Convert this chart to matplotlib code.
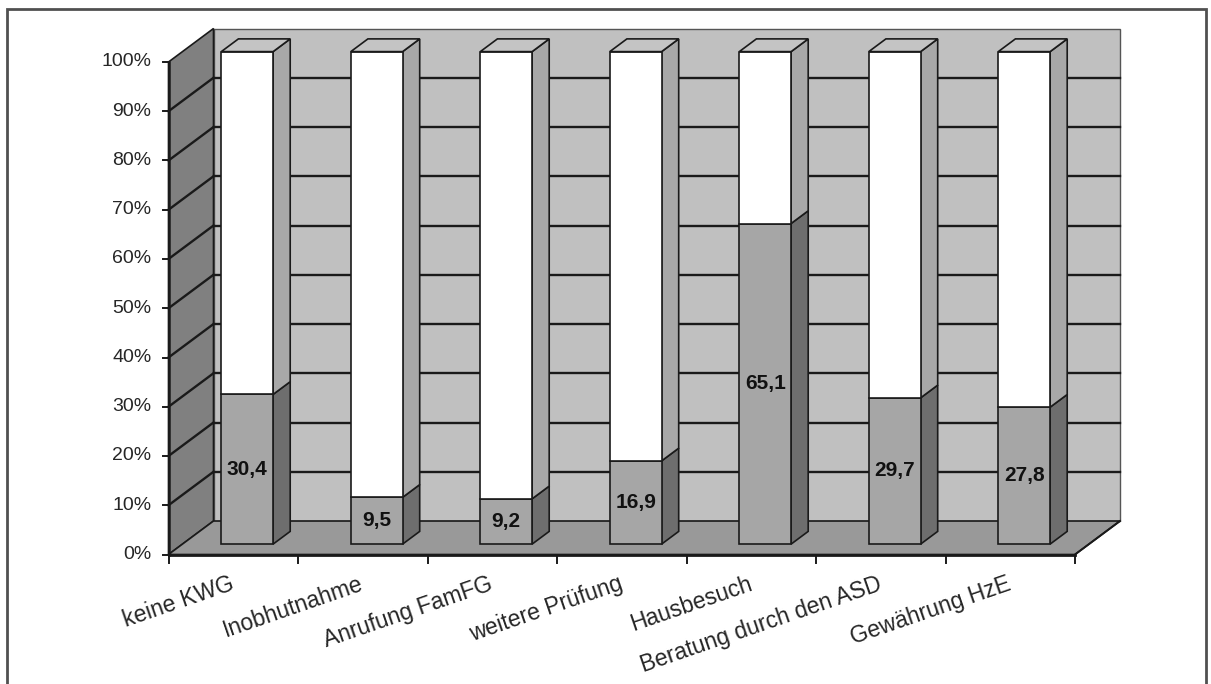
import matplotlib
matplotlib.use("Agg")
import matplotlib.pyplot as plt
from matplotlib.patches import Polygon, Rectangle

categories = ["keine KWG", "Inobhutnahme", "Anrufung FamFG", "weitere Prüfung",
              "Hausbesuch", "Beratung durch den ASD", "Gewährung HzE"]
shares = [30.4, 9.5, 9.2, 16.9, 65.1, 29.7, 27.8]
y_ticks = [0, 10, 20, 30, 40, 50, 60, 70, 80, 90, 100]
y_tick_labels = [f"{v}%" for v in y_ticks]

# pseudo-3D box: x in category units, y in percent, z = depth fraction (0 front, 1 back)
DX, DY = 0.3475, 6.8
BAR_W = 0.40
Z0, Z1 = 0.31, 0.69
PX_X, PX_Y = 129.5, 4.925          # pixels per data unit

FONT = ["Liberation Sans", "DejaVu Sans"]
EDGE = "#1a1a1a"


def proj(x, y, z):
    return (x + z * DX, y + z * DY)


def face(ax, pts, color, zorder, lw=1.2, ec=EDGE):
    ax.add_patch(Polygon(pts, closed=True, facecolor=color, edgecolor=ec,
                         linewidth=lw, joinstyle="miter", zorder=zorder))


def bar_block(ax, xc, y0, y1, front, side, top=None, zorder=5):
    x0, x1 = xc - BAR_W / 2, xc + BAR_W / 2
    face(ax, [proj(x1, y0, Z0), proj(x1, y0, Z1), proj(x1, y1, Z1), proj(x1, y1, Z0)],
         side, zorder)
    face(ax, [proj(x0, y0, Z0), proj(x1, y0, Z0), proj(x1, y1, Z0), proj(x0, y1, Z0)],
         front, zorder)
    if top is not None:
        face(ax, [proj(x0, y1, Z0), proj(x1, y1, Z0), proj(x1, y1, Z1), proj(x0, y1, Z1)],
             top, zorder)


n = len(categories)
fig = plt.figure(figsize=(12.11, 6.84), dpi=100)
ax = fig.add_axes([0, 0, 1, 1])
ax.set_xlim(-168.5 / PX_X, (1211 - 168.5) / PX_X)
ax.set_ylim((554.5 - 684) / PX_Y, 554.5 / PX_Y)
ax.axis("off")

# walls and floor
face(ax, [proj(0, 0, 1), proj(n, 0, 1), proj(n, 100, 1), proj(0, 100, 1)],
     "#c0c0c0", 1, lw=1.0, ec="#555555")
face(ax, [proj(0, 0, 0), proj(0, 0, 1), proj(0, 100, 1), proj(0, 100, 0)],
     "#808080", 1, lw=1.2)
face(ax, [proj(0, 0, 0), proj(n, 0, 0), proj(n, 0, 1), proj(0, 0, 1)],
     "#999999", 1, lw=1.2)

# gridlines on back and side wall
for v in y_ticks[1:-1]:
    bx, by = proj(0, v, 1)
    ex, ey = proj(n, v, 1)
    ax.plot([bx, ex], [by, ey], color=EDGE, lw=1.7, zorder=2)
    ax.plot([0, bx], [v, by], color=EDGE, lw=1.7, zorder=2)

# axes lines and ticks
ax.plot([0, 0], [0, 100], color=EDGE, lw=1.8, zorder=3)
ax.plot([0, n], [0, 0], color=EDGE, lw=2.0, zorder=3)
ax.plot([n, n + DX], [0, DY], color=EDGE, lw=1.4, zorder=3)
for v, lab in zip(y_ticks, y_tick_labels):
    ax.plot([-6 / PX_X, 0], [v, v], color=EDGE, lw=1.4, zorder=3)
    ax.text(-17 / PX_X, v, lab, ha="right", va="center", fontsize=14,
            family=FONT, color="#262626")
for i in range(n + 1):
    ax.plot([i, i], [0, -8 / PX_Y], color=EDGE, lw=1.4, zorder=3)

# stacked 100% bars
for i, (cat, v) in enumerate(zip(categories, shares)):
    xc = i + 0.5
    bar_block(ax, xc, 0, v, "#a6a6a6", "#6e6e6e", zorder=5)
    bar_block(ax, xc, v, 100, "#ffffff", "#a8a8a8", top="#c4c4c4", zorder=6)
    lx, ly = proj(xc, v / 2, Z0)
    ax.text(lx, ly, f"{v:.1f}".replace(".", ","), ha="center", va="center",
            fontsize=15, fontweight="bold", family=FONT, color="#111111", zorder=8)
    ax.text(xc + 2 / PX_X, -35 / PX_Y, cat, ha="right", va="baseline",
            rotation=19, rotation_mode="anchor", fontsize=16.5, family=FONT,
            color="#262626")

# outer frame
fig.patches.append(Rectangle((6.5 / 1211, -0.05), (1206 - 6.5) / 1211, 1.05 - 9 / 684,
                             transform=fig.transFigure, fill=False,
                             edgecolor="#505050", linewidth=2.0))

fig.savefig("out.png", dpi=100)
